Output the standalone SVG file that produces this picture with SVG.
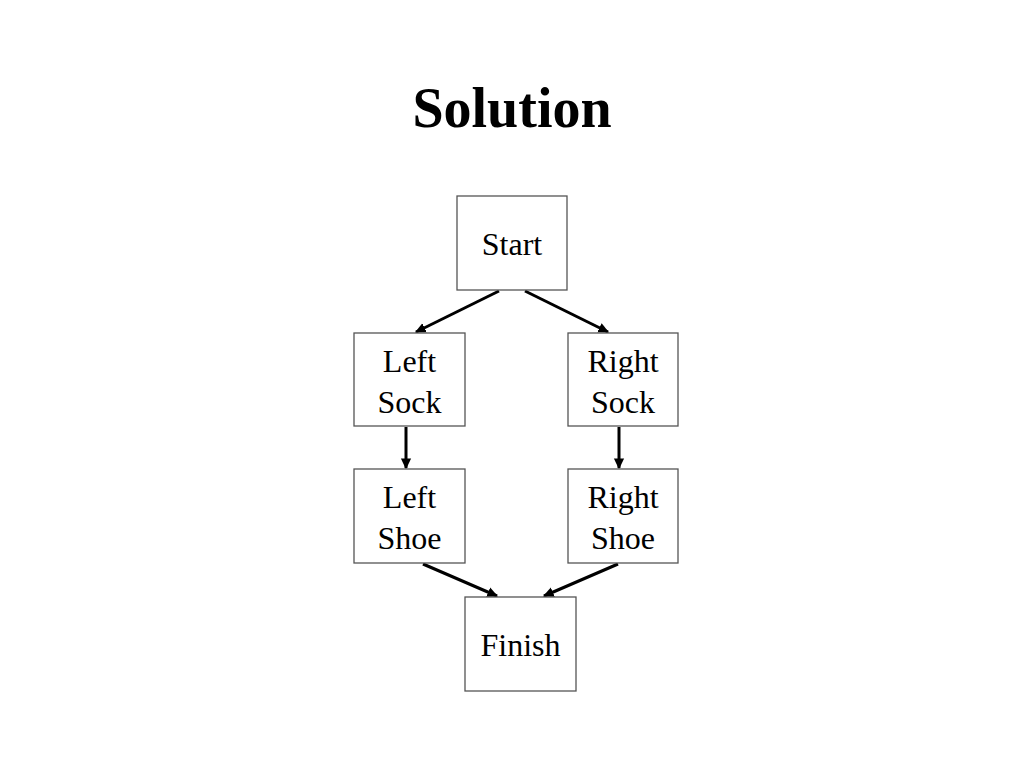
<svg xmlns="http://www.w3.org/2000/svg" width="1024" height="768" viewBox="0 0 1024 768">
<defs>
<style>
.box{fill:#fff;stroke:#555;stroke-width:1.3}
.lbl{font-family:"Liberation Serif","Times New Roman",serif;font-size:32px;fill:#000;text-anchor:middle}
.title{font-family:"Liberation Serif","Times New Roman",serif;font-size:56px;font-weight:bold;fill:#000;text-anchor:middle}
.edge{stroke:#000;stroke-width:3;fill:none;marker-end:url(#ah)}
</style>
<marker id="ah" markerWidth="4" markerHeight="4" refX="3.2" refY="2" orient="auto" markerUnits="strokeWidth">
<path d="M0,0.3 L3.6,2 L0,3.7 Z" fill="#000"/>
</marker>
</defs>
<rect width="1024" height="768" fill="#fff"/>
<text class="title" x="512" y="127">Solution</text>
<g id="connectors">
<line class="edge" x1="499" y1="291" x2="416" y2="332"/>
<line class="edge" x1="525" y1="291" x2="608" y2="332"/>
<line class="edge" x1="406" y1="427" x2="406" y2="468"/>
<line class="edge" x1="619" y1="427" x2="619" y2="468"/>
<line class="edge" x1="423" y1="564" x2="497" y2="596"/>
<line class="edge" x1="618" y1="564" x2="544" y2="596"/>
</g>
<g id="start"><rect class="box" x="457" y="196" width="110" height="94"/><text class="lbl" x="512" y="255">Start</text></g>
<g id="left-sock"><rect class="box" x="354" y="333" width="111" height="93"/><text class="lbl" x="409.5" y="372">Left</text><text class="lbl" x="409.5" y="413">Sock</text></g>
<g id="right-sock"><rect class="box" x="568" y="333" width="110" height="93"/><text class="lbl" x="623" y="372">Right</text><text class="lbl" x="623" y="413">Sock</text></g>
<g id="left-shoe"><rect class="box" x="354" y="469" width="111" height="94"/><text class="lbl" x="409.5" y="508">Left</text><text class="lbl" x="409.5" y="549">Shoe</text></g>
<g id="right-shoe"><rect class="box" x="568" y="469" width="110" height="94"/><text class="lbl" x="623" y="508">Right</text><text class="lbl" x="623" y="549">Shoe</text></g>
<g id="finish"><rect class="box" x="465" y="597" width="111" height="94"/><text class="lbl" x="520.5" y="656">Finish</text></g>
</svg>
